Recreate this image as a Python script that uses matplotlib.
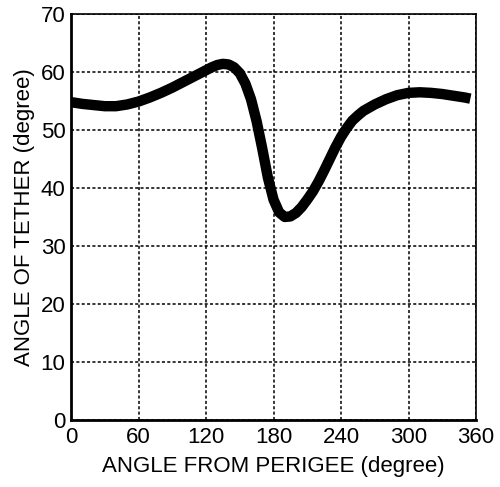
import matplotlib
matplotlib.use("Agg")
import matplotlib.pyplot as plt

# Tether angle vs. angle from perigee
angle_deg = [0, 10, 20, 30, 40, 50, 60, 70, 80, 90, 100, 110, 120, 125, 130,
             135, 140, 145, 150, 155, 160, 165, 170, 175, 180, 185, 190, 195,
             200, 205, 210, 215, 220, 225, 230, 235, 240, 245, 250, 255, 260,
             270, 280, 290, 300, 310, 320, 330, 340, 350, 355]
tether_deg = [54.8, 54.5, 54.3, 54.1, 54.1, 54.4, 54.9, 55.6, 56.4, 57.3, 58.3,
              59.3, 60.3, 60.8, 61.2, 61.4, 61.3, 60.8, 59.8, 58.0, 55.3, 51.5,
              46.8, 41.8, 38.0, 35.8, 35.0, 35.1, 35.7, 36.7, 38.0, 39.4, 41.1,
              43.0, 45.0, 47.0, 48.8, 50.3, 51.6, 52.5, 53.3, 54.4, 55.3, 56.0,
              56.4, 56.5, 56.4, 56.2, 55.9, 55.6, 55.4]

x_ticks = [0, 60, 120, 180, 240, 300, 360]
y_ticks = [0, 10, 20, 30, 40, 50, 60, 70]

plt.rcParams["font.family"] = ["Liberation Sans", "DejaVu Sans"]

fig = plt.figure(figsize=(5.0, 4.87), dpi=100)
ax = fig.add_axes([0.142, 0.1376, 0.81, 0.8337])

ax.plot(angle_deg, tether_deg, color="black", linewidth=7.5,
        solid_capstyle="butt", solid_joinstyle="round")

ax.set_xlim(0, 360)
ax.set_ylim(0, 70)
ax.set_xticks(x_ticks)
ax.set_yticks(y_ticks)
ax.tick_params(axis="x", length=0, labelsize=16, pad=5)
ax.tick_params(axis="y", length=0, labelsize=16, pad=4)
ax.grid(True, color="black", linestyle=(0, (2, 1.5)), linewidth=1.1)

for side in ["left", "bottom"]:
    ax.spines[side].set_linewidth(2)
for side in ["top", "right"]:
    ax.spines[side].set_linewidth(1.2)

ax.set_xlabel("ANGLE FROM PERIGEE (degree)", fontsize=16, labelpad=6)
ax.set_ylabel("ANGLE OF TETHER (degree)", fontsize=16, labelpad=4)

fig.savefig("out.png", dpi=100)
plt.close(fig)
